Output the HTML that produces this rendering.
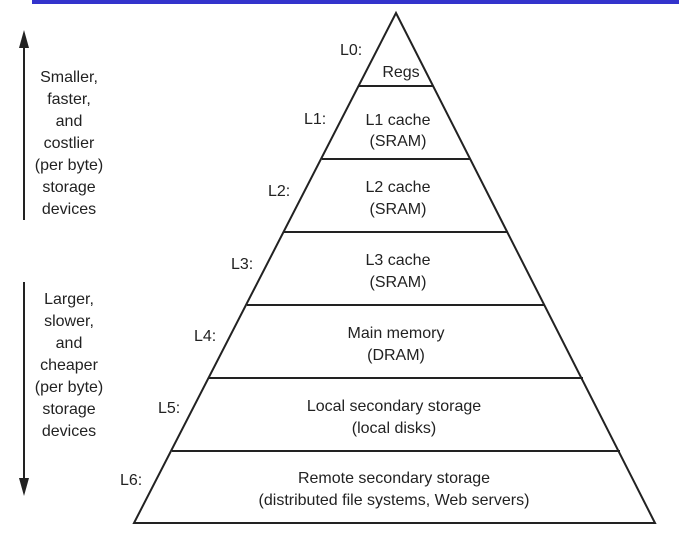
<!DOCTYPE html>
<html><head><style>
body{margin:0;width:679px;height:534px;background:#fff;overflow:hidden}
svg text{font-family:"Liberation Sans",Arial,sans-serif;font-size:16px;fill:#222}
</style></head><body>
<svg width="679" height="534" xmlns="http://www.w3.org/2000/svg">
<rect x="32" y="0" width="647" height="4" fill="#3333cc"/>
<g stroke="#222" stroke-width="2" fill="none">
<polygon points="396,13 134,523 655,523"/>
<line x1="359" y1="86" x2="433" y2="86"/>
<line x1="322" y1="159" x2="470" y2="159"/>
<line x1="284" y1="232" x2="508" y2="232"/>
<line x1="247" y1="305" x2="545" y2="305"/>
<line x1="209" y1="378" x2="583" y2="378"/>
<line x1="172" y1="451" x2="620" y2="451"/>
<line x1="24" y1="44" x2="24" y2="220"/>
<line x1="24" y1="282" x2="24" y2="482"/>
</g>
<polygon points="24,30 19,48 29,48" fill="#222"/>
<polygon points="24,496 19,478 29,478" fill="#222"/>
<g text-anchor="middle">
<text x="69" y="82">Smaller,</text><text x="69" y="104">faster,</text><text x="69" y="126">and</text><text x="69" y="148">costlier</text><text x="69" y="170">(per byte)</text><text x="69" y="192">storage</text><text x="69" y="214">devices</text>
<text x="69" y="304">Larger,</text><text x="69" y="326">slower,</text><text x="69" y="348">and</text><text x="69" y="370">cheaper</text><text x="69" y="392">(per byte)</text><text x="69" y="414">storage</text><text x="69" y="436">devices</text>
<text x="401" y="77">Regs</text>
<text x="398" y="125">L1 cache</text><text x="398" y="146">(SRAM)</text>
<text x="398" y="192">L2 cache</text><text x="398" y="214">(SRAM)</text>
<text x="398" y="265">L3 cache</text><text x="398" y="287">(SRAM)</text>
<text x="396" y="338">Main memory</text><text x="396" y="360">(DRAM)</text>
<text x="394" y="411">Local secondary storage</text><text x="394" y="433">(local disks)</text>
<text x="394" y="483">Remote secondary storage</text><text x="394" y="505">(distributed file systems, Web servers)</text>
</g>
<text x="340" y="55">L0:</text>
<text x="304" y="124">L1:</text>
<text x="268" y="196">L2:</text>
<text x="231" y="269">L3:</text>
<text x="194" y="341">L4:</text>
<text x="158" y="413">L5:</text>
<text x="120" y="485">L6:</text>
</svg>
</body></html>
